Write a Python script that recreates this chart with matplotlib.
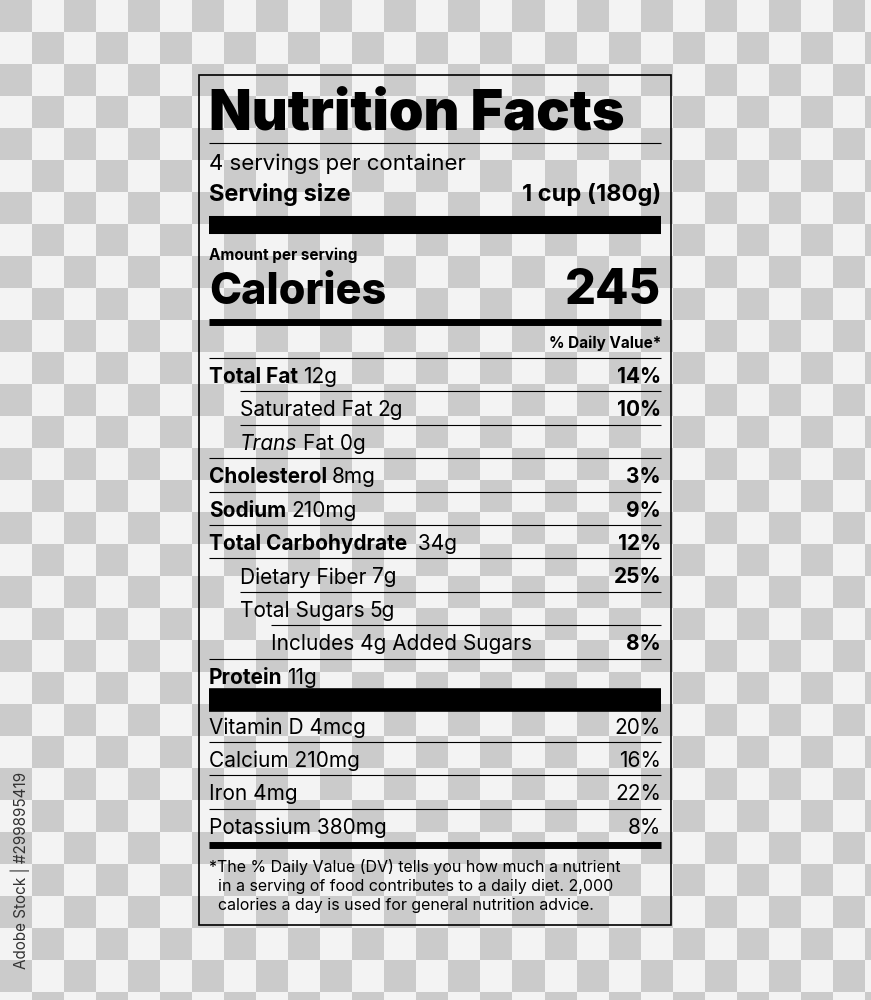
import numpy as np
import matplotlib.pyplot as plt

plt.rcParams['font.family'] = ['Inter', 'DejaVu Sans']

servings = "4 servings per container"
serving_size = "1 cup (180g)"
calories = "245"
nutrients = [("Total Fat", "12g", "14%", 0), ("Saturated Fat", "2g", "10%", 1),
             ("Trans", "Fat 0g", "", 1), ("Cholesterol", "8mg", "3%", 0),
             ("Sodium", "210mg", "9%", 0), ("Total Carbohydrate", " 34g", "12%", 0),
             ("Dietary Fiber", "7g", "25%", 1), ("Total Sugars", "5g", "", 1),
             ("Includes 4g Added Sugars", "", "8%", 2), ("Protein", "11g", "", 0)]
vitamins = [("Vitamin D 4mcg", "20%"), ("Calcium 210mg", "16%"),
            ("Iron 4mg", "22%"), ("Potassium 380mg", "8%")]
footnote = ("*The % Daily Value (DV) tells you how much a nutrient\n"
            "  in a serving of food contributes to a daily diet. 2,000\n"
            "  calories a day is used for general nutrition advice.")

fig = plt.figure(figsize=(8.71, 10), dpi=100)
ax = fig.add_axes([0, 0, 1, 1])
ax.set_xlim(0, 871)
ax.set_ylim(1000, 0)
ax.axis('off')

# checkerboard background
sq = 32
nx, ny = 871 // sq + 2, 1000 // sq + 2
board = (np.add.outer(np.arange(ny), np.arange(nx)) % 2)
ax.imshow(board, cmap='gray', vmin=-5, vmax=1.3, extent=(0, nx * sq, ny * sq, 0),
          interpolation='nearest', zorder=0)
ax.set_xlim(0, 871)
ax.set_ylim(1000, 0)

L, R = 209, 661
ax.add_patch(plt.Rectangle((199, 75), 472, 850, fill=False, lw=1.2, ec='black', zorder=2))

def hline(y, lw, x0=L):
    ax.plot([x0, R], [y, y], color='black', lw=lw, solid_capstyle='butt', zorder=3)

ax.text(L, 115, "Nutrition Facts", fontsize=40, fontweight='black', va='center', zorder=4)
hline(143, 0.8)
ax.text(L, 164, servings, fontsize=16, va='center', zorder=4)
ax.text(L, 195, "Serving size", fontsize=17, fontweight='bold', va='center', zorder=4)
ax.text(R, 195, serving_size, fontsize=17, fontweight='bold', va='center', ha='right', zorder=4)
hline(225, 13)
ax.text(L, 255, "Amount per serving", fontsize=11, fontweight='bold', va='center', zorder=4)
ax.text(L, 293, "Calories", fontsize=31, fontweight='heavy', va='center', zorder=4)
ax.text(R, 291, calories, fontsize=35, fontweight='heavy', va='center', ha='right', zorder=4)
hline(322, 5)
ax.text(R, 343, "% Daily Value*", fontsize=11, fontweight='bold', va='center', ha='right', zorder=4)

fig.canvas.draw()
rend = fig.canvas.get_renderer()
indent = [L, 240, 271]
line_start = {1: 240, 2: 240, 7: 240, 8: 271}
y = 358
for i, (name, amt, dv, lvl) in enumerate(nutrients):
    hline(y, 0.8, line_start.get(i, L))
    yc = y + 19
    x0 = indent[lvl]
    bold = lvl == 0
    style = 'italic' if name == "Trans" else 'normal'
    t = ax.text(x0, yc, name, fontsize=15, fontweight='bold' if bold else 'normal',
                style=style, va='center', zorder=4)
    if amt:
        bb = t.get_window_extent(rend)
        x1 = bb.x1 + 5
        ax.text(x1, yc, amt, fontsize=15, va='center', zorder=4)
    if dv:
        ax.text(R, yc, dv, fontsize=15, fontweight='bold', va='center', ha='right', zorder=4)
    y += 33.4
hline(700, 17)
y = 709
for i, (name, dv) in enumerate(vitamins):
    if i:
        hline(y, 0.8)
    yc = y + 19
    ax.text(L, yc, name, fontsize=15, va='center', zorder=4)
    ax.text(R, yc, dv, fontsize=15, va='center', ha='right', zorder=4)
    y += 33.2
hline(845, 5)
ax.text(L, 886, footnote, fontsize=11.5, va='center', linespacing=1.35, zorder=4)

ax.text(20, 870, "Adobe Stock | #299895419", fontsize=11, rotation=90, color='#333333',
        va='center', ha='center', zorder=4)

fig.savefig("out.png", dpi=100)
